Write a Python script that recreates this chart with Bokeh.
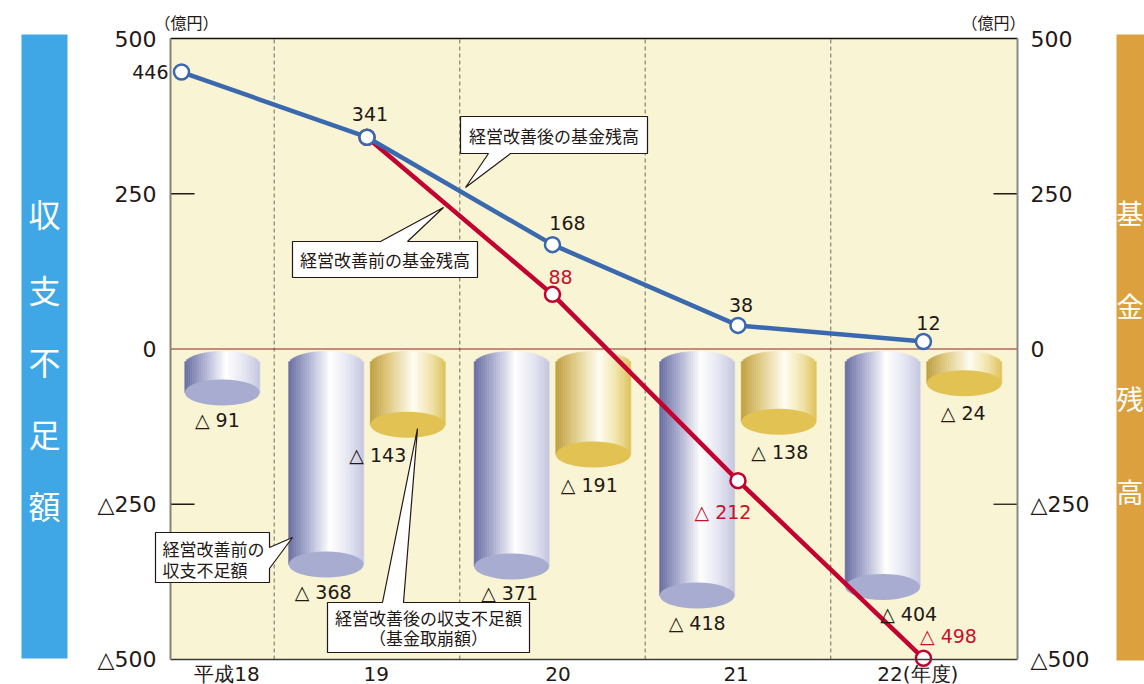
import numpy as np
from bokeh.plotting import figure
from bokeh.models import Range1d
from bokeh.core.properties import value
from bokeh.embed import file_html
from bokeh.resources import INLINE

# ---- data (億円) ----
years = ["平成18", "19", "20", "21", "22(年度)"]
year_x = [0, 1, 2, 3, 4]
fund_after = [446, 341, 168, 38, 12]          # 経営改善後の基金残高
fund_before_x = [1, 2, 3, 4]
fund_before = [341, 88, -212, -498]           # 経営改善前の基金残高
deficit_before = [91, 368, 371, 418, 404]     # 経営改善前の収支不足額
deficit_after_x = [1, 2, 3, 4]
deficit_after = [143, 191, 138, 24]           # 経営改善後の収支不足額（基金取崩額）
y_ticks = [-500, -250, 0, 250, 500]
y_tick_text = ["△500", "△250", "0", "250", "500"]

# ---- canvas geometry (px) ----
W, H = 1144, 684
FL, FR, FT, FB = 170, 1017, 38, 659     # plot box edges
X0, X1 = -0.0593, 4.507                 # data range of the plot box
Y0, Y1 = -500, 500
KX = (X1 - X0) / (FR - FL)              # data units per px
KY = (Y1 - Y0) / (FB - FT)


def dx(px):
    return X0 + (px - FL) * KX


def dy(py):
    return Y1 - (py - FT) * KY


def px_of(x):
    return FL + (x - X0) / KX


def py_of(y):
    return FT + (Y1 - y) / KY


FONT_NUM = "DejaVu Sans"
FONT_JP = "Noto Sans CJK JP"
INK = "#231815"
BLUE_LINE = "#3A69AF"
RED_LINE = "#C3002F"
RED_TEXT = "#C8102E"

p = figure(width=W, height=H, title=None,
           x_range=Range1d(dx(0), dx(W)), y_range=Range1d(dy(H), dy(0)),
           output_backend="svg", toolbar_location=None,
           x_axis_location=None, y_axis_location=None, min_border=0,
           background_fill_color="white", border_fill_color="white")
p.grid.visible = False
p.outline_line_color = None


def txt(px, py, text, size, color=INK, font=FONT_NUM, align="center"):
    p.text(x=[dx(px)], y=[dy(py)], text=[text], text_font=value(font),
           text_font_size=value(f"{size}px"), text_color=color,
           text_align=align, text_baseline="middle")


# ---- plot box ----
p.quad(left=[X0], right=[X1], bottom=[Y0], top=[Y1], fill_color="#F9F4D3", line_color=None)
sep = [x + 0.5 for x in year_x[:-1]]
p.segment(x0=sep, y0=Y0, x1=sep, y1=Y1, line_color="#8E8A7C",
          line_dash="4 3", line_width=1.3)
p.segment(x0=[X0], y0=[0], x1=[X1], y1=[0], line_color="#8E2424", line_width=1.2)
tick_len = 24 * KX
inner = [t for t in y_ticks if abs(t) == 250]
p.segment(x0=[X0] * 2, y0=inner, x1=[X0 + tick_len] * 2, y1=inner,
          line_color=INK, line_width=1.3)
p.segment(x0=[X1 - tick_len] * 2, y0=inner, x1=[X1] * 2, y1=inner,
          line_color=INK, line_width=1.3)

# y tick labels on both sides
p.text(x=[dx(156)] * len(y_ticks), y=y_ticks, text=y_tick_text,
       text_font=value(FONT_NUM), text_font_size=value("22px"), text_color=INK,
       text_align="right", text_baseline="middle")
p.text(x=[dx(1030)] * len(y_ticks), y=y_ticks, text=y_tick_text,
       text_font=value(FONT_NUM), text_font_size=value("22px"), text_color=INK,
       text_align="left", text_baseline="middle")

# ---- cylinders ----
BLUE_STOPS = [(0.0, (102, 108, 160)), (0.25, (168, 172, 207)), (0.55, (255, 255, 255)),
              (0.8, (228, 229, 242)), (1.0, (196, 198, 226))]
GOLD_STOPS = [(0.0, (190, 158, 62)), (0.25, (224, 202, 132)), (0.58, (255, 254, 244)),
              (0.82, (240, 226, 168)), (1.0, (222, 194, 92))]


def mix(stops, t):
    for (t0, c0), (t1, c1) in zip(stops[:-1], stops[1:]):
        if t <= t1:
            f = (t - t0) / (t1 - t0)
            return "#%02x%02x%02x" % tuple(int(round(a + (b - a) * f)) for a, b in zip(c0, c1))
    return "#%02x%02x%02x" % stops[-1][1]


CYL_W = 75 * KX
CAP = 13 * KY          # vertical semi-axis of the elliptical faces
APEX = -2.5 * KY       # top of the rounded rim, just under the zero line
MIN_DEPTH = 76


def cylinder(xc, amount, stops, face):
    depth = max(amount, MIN_DEPTH)
    top_c = APEX - CAP
    bot_c = -depth + CAP
    edges = np.linspace(-1, 1, 41)
    mids = (edges[:-1] + edges[1:]) / 2
    colors = [mix(stops, (m + 1) / 2) for m in mids]
    p.quad(left=xc + edges[:-1] * CYL_W / 2, right=xc + edges[1:] * CYL_W / 2,
           top=top_c + CAP * np.sqrt(1 - mids ** 2), bottom=bot_c,
           fill_color=colors, line_color=colors, line_width=0.6)
    p.ellipse(x=[xc], y=[bot_c], width=CYL_W, height=2 * CAP,
              fill_color=face, line_color=None)
    return -depth


OFFSET = 0.22
bar_labels = []
before_label_dx = [-5, -3, -2, 0, 26]
after_label_dx = [-30, -4, 1, -1]
for i, (x, v) in enumerate(zip(year_x, deficit_before)):
    xc = x - OFFSET if x in deficit_after_x else x + OFFSET
    bottom = cylinder(xc, v, BLUE_STOPS, "#A8ACD0")
    bar_labels.append((px_of(xc) + before_label_dx[i], py_of(bottom) + 14, f"△ {v}"))
for i, (x, v) in enumerate(zip(deficit_after_x, deficit_after)):
    xc = x + OFFSET
    bottom = cylinder(xc, v, GOLD_STOPS, "#E1C253")
    bar_labels.append((px_of(xc) + after_label_dx[i], py_of(bottom) + 17, f"△ {v}"))

# ---- fund balance lines ----
p.line(fund_before_x, fund_before, line_color=RED_LINE, line_width=4.5)
p.scatter(fund_before_x, fund_before, marker="circle", size=15, fill_color="white",
          line_color=RED_LINE, line_width=2.5)
p.line(year_x, fund_after, line_color=BLUE_LINE, line_width=4.5)
p.scatter(year_x, fund_after, marker="circle", size=15, fill_color="white",
          line_color=BLUE_LINE, line_width=2.5)

for lx, ly, t in bar_labels:
    txt(lx, ly, t, 19)


def amount_text(v):
    return str(v) if v >= 0 else f"△ {-v}"


after_offsets = [(-13, 0, "right"), (3, -23, "center"), (15, -22, "center"),
                 (3, -20, "center"), (5, -19, "center")]
for x, v, (ox, oy, al) in zip(year_x, fund_after, after_offsets):
    txt(px_of(x) + ox, py_of(v) + oy, amount_text(v), 19, align=al)
before_offsets = [None, (8, -17), (-15, 31), (25, -22)]
for x, v, off in zip(fund_before_x, fund_before, before_offsets):
    if off:
        txt(px_of(x) + off[0], py_of(v) + off[1], amount_text(v), 19, color=RED_TEXT)

# ---- plot box frame ----
p.segment(x0=[X0], y0=[Y1], x1=[X1], y1=[Y1], line_color="#111111", line_width=1.5)
p.segment(x0=[X0], y0=[Y0], x1=[X1], y1=[Y0], line_color="#3A3A3A", line_width=1.5)
p.segment(x0=[X0], y0=[Y0], x1=[X0], y1=[Y1], line_color="#8C8272", line_width=2)
p.segment(x0=[X1], y0=[Y0], x1=[X1], y1=[Y1], line_color="#8A8A8A", line_width=2)

# ---- category labels ----
year_label_x = [0.245, 1.05, 2.03, 2.99, 3.97]
p.text(x=year_label_x, y=[dy(673)] * len(years), text=years,
       text_font=value(FONT_NUM), text_font_size=value("20px"), text_color=INK,
       text_align="center", text_baseline="middle")

# unit captions
txt(186, 21, "（億円）", 16, font=FONT_JP)
txt(993, 21, "（億円）", 16, font=FONT_JP)

# ---- side title bands ----
p.quad(left=[dx(21), dx(1116)], right=[dx(67), dx(1160)],
       top=[dy(34), dy(34)], bottom=[dy(658), dy(660)],
       fill_color=["#3FA7E6", "#DCA13E"], line_color=None)
for ch, y in zip("収支不足額", [212, 288, 360, 432, 504]):
    txt(44, y, ch, 32, color="white", font=FONT_JP)
for ch, y in zip("基金残高", [212, 305, 398, 491]):
    txt(1129.5, y, ch, 27, color="white", font=FONT_JP)


# ---- callouts ----
def callout(pts):
    p.patch(x=[dx(a) for a, _ in pts], y=[dy(b) for _, b in pts],
            fill_color="white", line_color=INK, line_width=1.2)


callout([(460, 116), (647, 116), (647, 153), (510, 153), (465, 187), (488, 153), (460, 153)])
txt(553.5, 135, "経営改善後の基金残高", 17, font=FONT_JP)
callout([(292, 241), (380, 241), (443, 207), (407, 241), (477, 241), (477, 277), (292, 277)])
txt(384.5, 259, "経営改善前の基金残高", 17, font=FONT_JP)
callout([(155, 532), (269, 532), (269, 547), (292, 537), (269, 568), (269, 582), (155, 582)])
txt(162, 548, "経営改善前の", 17, font=FONT_JP, align="left")
txt(162, 569, "収支不足額", 17, font=FONT_JP, align="left")
callout([(327, 602), (382, 602), (417, 428), (403, 602), (529, 602), (529, 652), (327, 652)])
txt(428, 617, "経営改善後の収支不足額", 17, font=FONT_JP)
txt(428, 637, "（基金取崩額）", 17, font=FONT_JP)

open("out.html", "w").write(file_html(p, INLINE))
